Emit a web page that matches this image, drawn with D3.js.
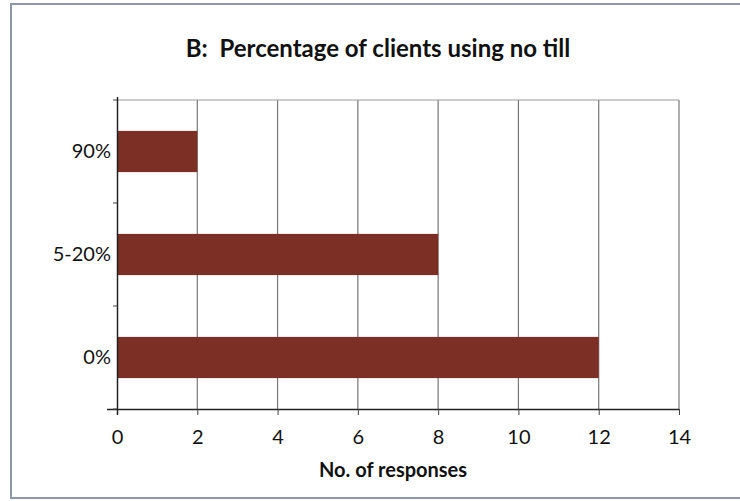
<!DOCTYPE html>
<html><head><meta charset="utf-8">
<script src="https://cdn.jsdelivr.net/npm/d3@7"></script>
<style>body{margin:0;background:#fff}svg{display:block}text{white-space:pre}</style>
</head><body>
<svg id="c" width="740" height="501"></svg>
<script>
const categories = ["90%", "5-20%", "0%"];
const values = [2, 8, 12];
const xTicks = [0, 2, 4, 6, 8, 10, 12, 14];
const title = "B:  Percentage of clients using no till";
const xTitle = "No. of responses";

const svg = d3.select("#c");
const font = "Lato, 'Open Sans', sans-serif";
svg.append("rect").attr("x", 11).attr("y", 4).attr("width", 760).attr("height", 494)
  .attr("fill", "#fff").attr("stroke", "#8e98a8").attr("stroke-width", 2);

const m = {l: 117, r: 679, t: 100, b: 409};
const x = d3.scaleLinear().domain([0, 14]).range([m.l, m.r]);
const y = d3.scaleBand().domain(categories).range([m.t, m.b]).paddingInner(0.6).paddingOuter(0.3);

// gridlines
svg.append("g").selectAll("line").data(xTicks.slice(1)).join("line")
  .attr("x1", d => x(d)).attr("x2", d => x(d)).attr("y1", m.t).attr("y2", m.b)
  .attr("stroke", "#777").attr("stroke-width", 1.2);
svg.append("line").attr("x1", m.l).attr("x2", m.r).attr("y1", m.t).attr("y2", m.t)
  .attr("stroke", "#999").attr("stroke-width", 1);

// bars
svg.append("g").selectAll("rect").data(values).join("rect")
  .attr("x", x(0)).attr("y", (d, i) => y(categories[i]))
  .attr("width", d => x(d) - x(0)).attr("height", y.bandwidth())
  .attr("fill", "#7b2f25");

// x axis
const xa = svg.append("g").attr("transform", `translate(0,${m.b})`)
  .call(d3.axisBottom(x).tickValues(xTicks).tickSize(6).tickPadding(15).tickSizeOuter(0));
xa.select(".domain").attr("d", `M${m.l - 10},0.5H${m.r}`).attr("stroke", "#222").attr("stroke-width", 1.5);
xa.selectAll(".tick line").attr("stroke", "#444");
xa.selectAll("text").attr("font-family", font).attr("font-size", 20).attr("fill", "#111");

// y axis
const yBounds = [m.t, m.t + (m.b - m.t) / 3, m.t + 2 * (m.b - m.t) / 3, m.b];
const ya = svg.append("g").attr("transform", `translate(${m.l},0)`)
  .call(d3.axisLeft(y).tickSize(0).tickPadding(6));
ya.select(".domain").attr("d", `M0.5,${m.t - 3}V${m.b + 6}`).attr("stroke", "#222").attr("stroke-width", 1.5);
ya.selectAll("text").attr("font-family", font).attr("font-size", 20).attr("fill", "#111");
svg.append("g").selectAll("line").data(yBounds).join("line")
  .attr("x1", m.l - 4).attr("x2", m.l).attr("y1", d => d).attr("y2", d => d)
  .attr("stroke", "#444");

// titles
svg.append("text").attr("x", 378).attr("y", 57).attr("text-anchor", "middle")
  .attr("font-family", font).attr("font-weight", "bold").attr("font-size", 24).attr("fill", "#111")
  .text(title);
svg.append("text").attr("x", 393).attr("y", 477).attr("text-anchor", "middle")
  .attr("font-family", font).attr("font-weight", "bold").attr("font-size", 20).attr("fill", "#111")
  .text(xTitle);
</script>
</body></html>
